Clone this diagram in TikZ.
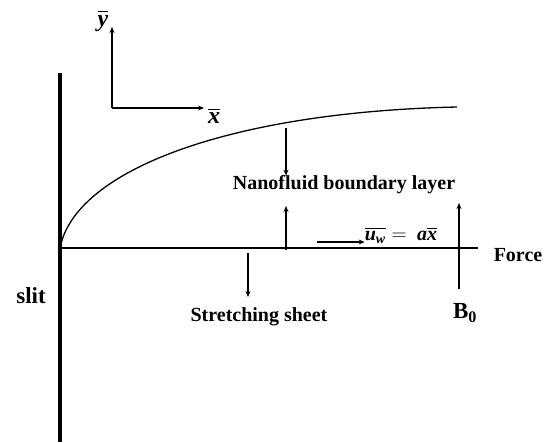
\documentclass[tikz,border=0pt]{standalone}
\usepackage{fontspec}
\usepackage{amsmath}
\setmainfont{Liberation Serif}
\usetikzlibrary{arrows.meta}
\newcommand{\bitx}[1]{\text{\bfseries\itshape #1}}
\begin{document}
\begin{tikzpicture}[x=1pt,y=-1pt,
  arr/.style={-{Stealth[length=6pt,width=5pt]}, line width=1.1pt},
  lbl/.style={font=\fontsize{20}{24}\selectfont\bfseries, inner sep=0pt},
  mlbl/.style={font=\fontsize{20}{24}\selectfont, inner sep=0pt},
  alb/.style={font=\fontsize{24}{28}\selectfont, inner sep=0pt}]
\useasboundingbox (0,0) rectangle (548,442);
% slit wall
\coordinate (wallTop) at (60,73);
\coordinate (wallBot) at (60,442);
\draw[line width=4pt] (wallTop) -- (wallBot);
% sheet
\coordinate (origin) at (60,248);
\coordinate (sheetEnd) at (478,248);
\draw[line width=1.3pt] (origin) -- (sheetEnd);
% boundary layer curve
\coordinate (blEnd) at (457,107);
\draw[line width=1.3pt] (origin) .. controls (75,170) and (230,112) .. (blEnd);
% axes
\coordinate (ax0) at (112,108);
\coordinate (axY) at (112,27);
\coordinate (axX) at (204,108);
\draw[arr] (ax0) -- (axY);
\draw[arr] (ax0) -- (axX);
\node[alb] (ylab) at (103,21) {$\overline{\bitx{y}}$};
\node[alb] (xlab) at (214,116) {$\overline{\bitx{x}}$};
% labels
\node[lbl] (nbl) at (344,185) {Nanofluid boundary layer};
\node[lbl] (ss) at (259,317) {Stretching sheet};
\node[lbl] (force) at (518,255) {Force};
\node[lbl, font=\fontsize{23}{26}\selectfont\bfseries] (slit) at (31,296) {slit};
\node[lbl, font=\fontsize{23}{26}\selectfont\bfseries] (b0) at (465,313) {B$_{\mathbf{0}}$};
\node[mlbl] (eq) at (401,235) {$\overline{\bitx{u}_{\bitx{w}}} = \ \bitx{a}\overline{\bitx{x}}$};
% arrows
\coordinate (dA1) at (286,128);
\draw[arr] (dA1) -- (nbl.north -| dA1);
\coordinate (uA1) at (286,250);
\draw[arr] (uA1) -- (286,206);
\coordinate (uwS) at (317,242);
\draw[arr] (uwS) -- (eq.west |- uwS);
\coordinate (dA2) at (248,253);
\draw[arr] (dA2) -- (248,297);
\coordinate (bS) at (459,289);
\draw[arr] (bS) -- (459,203);
\end{tikzpicture}
\end{document}
